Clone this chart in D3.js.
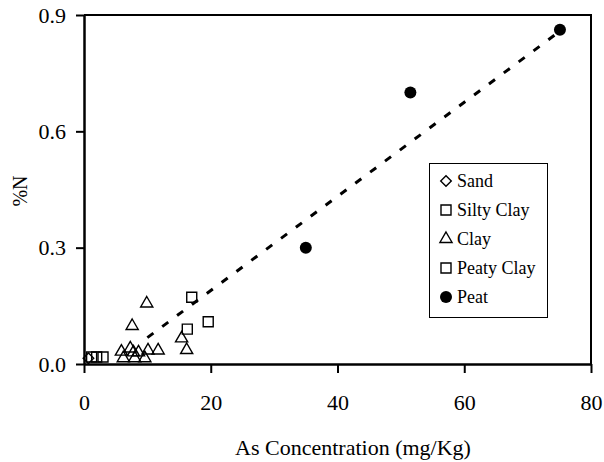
<!DOCTYPE html>
<html>
<head>
<meta charset="utf-8">
<script src="https://cdn.jsdelivr.net/npm/d3@7"></script>
<style>
  body { margin: 0; background: #fff; }
</style>
</head>
<body>
<div id="chart"></div>
<script>
// Chart data
var sandX = [0.7];
var sandY = [0.015];
var siltyX = [1.2, 2.0, 3.0];
var siltyY = [0.018, 0.018, 0.018];
var clayX = [5.9, 7.3, 7.8, 8.6, 10.1, 11.7, 6.2, 8.0, 9.6, 15.4, 16.2, 9.9, 7.6];
var clayY = [0.032, 0.04, 0.03, 0.03, 0.035, 0.035, 0.015, 0.015, 0.015, 0.066, 0.036, 0.156, 0.098];
var peatyX = [17.0, 19.6, 16.3];
var peatyY = [0.172, 0.109, 0.09];
var peatX = [35.0, 51.5, 75.1];
var peatY = [0.30, 0.70, 0.862];
var trendX = [10, 75];
var trendY = [0.068, 0.857];

var xTicks = [0, 20, 40, 60, 80];
var yTicks = [0, 0.3, 0.6, 0.9];
var seriesNames = ["Sand", "Silty Clay", "Clay", "Peaty Clay", "Peat"];

var width = 604, height = 462;
var serif = "'Liberation Serif'";

var svg = d3.select("#chart")
    .append("svg")
    .attr("width", width)
    .attr("height", height)
    .attr("font-family", "Liberation Serif");

var x = d3.scaleLinear().domain([0, 80]).range([84, 591]);
var y = d3.scaleLinear().domain([0, 0.9]).range([364, 15]);

// plot frame (top and right edges)
svg.append("path")
    .attr("d", "M" + x(0) + "," + y(0.9) + "H" + x(80) + "V" + y(0))
    .attr("fill", "none")
    .attr("stroke", "#000")
    .attr("stroke-width", 2);

// axes
var xAxis = svg.append("g")
    .attr("transform", "translate(0," + y(0) + ")")
    .call(d3.axisBottom(x).tickValues(xTicks).tickSize(9).tickSizeOuter(0));
var yAxis = svg.append("g")
    .attr("transform", "translate(" + x(0) + ",0)")
    .call(d3.axisLeft(y).tickValues(yTicks).tickSize(8).tickSizeOuter(0).tickPadding(10)
        .tickFormat(d3.format(".1f")));

[xAxis, yAxis].forEach(function (a) {
    a.attr("font-family", null).attr("font-size", null);
    a.select(".domain").attr("stroke-width", 2.5);
    a.selectAll(".tick line").attr("stroke-width", 2);
    a.selectAll(".tick text")
        .style("font-family", serif)
        .style("font-size", "22px");
});
xAxis.selectAll(".tick text").attr("dy", "0.71em").attr("y", 30);

// axis titles
svg.append("text")
    .attr("x", 353)
    .attr("y", 455)
    .attr("text-anchor", "middle")
    .style("font-family", serif)
    .style("font-size", "22px")
    .text("As Concentration (mg/Kg)");

svg.append("text")
    .attr("transform", "translate(27,191) rotate(-90)")
    .attr("text-anchor", "middle")
    .style("font-family", serif)
    .style("font-size", "20px")
    .text("%N");

// trend line
var line = d3.line()
    .x(function (d) { return x(d[0]); })
    .y(function (d) { return y(d[1]); });

svg.append("path")
    .datum(d3.zip(trendX, trendY))
    .attr("d", line)
    .attr("fill", "none")
    .attr("stroke", "#000")
    .attr("stroke-width", 3)
    .attr("stroke-dasharray", "7.5,11");

// marker generators
var squareSym = d3.symbol().type(d3.symbolSquare).size(100)();
var diamondSym = d3.symbol().type(d3.symbolSquare).size(56)();
var triangleSym = d3.symbol().type(d3.symbolTriangle).size(64)();

function drawSeries(xs, ys, kind) {
    var pts = d3.zip(xs, ys);
    var g = svg.append("g");
    if (kind === "circle") {
        g.selectAll("circle")
            .data(pts)
            .enter().append("circle")
            .attr("cx", function (d) { return x(d[0]); })
            .attr("cy", function (d) { return y(d[1]); })
            .attr("r", 6)
            .attr("fill", "#000");
        return;
    }
    var sym = kind === "square" ? squareSym : (kind === "diamond" ? diamondSym : triangleSym);
    g.selectAll("path")
        .data(pts)
        .enter().append("path")
        .attr("d", sym)
        .attr("transform", function (d) {
            return "translate(" + x(d[0]) + "," + y(d[1]) + ")" + (kind === "diamond" ? " rotate(45)" : "");
        })
        .attr("fill", "none")
        .attr("stroke", "#000")
        .attr("stroke-width", 1.4);
}

drawSeries(sandX, sandY, "diamond");
drawSeries(siltyX, siltyY, "square");
drawSeries(clayX, clayY, "triangle");
drawSeries(peatyX, peatyY, "square");
drawSeries(peatX, peatY, "circle");

// legend
var legendKinds = ["diamond", "square", "triangle", "square", "circle"];
var legend = svg.append("g");
legend.append("rect")
    .attr("x", 429.5)
    .attr("y", 163.5)
    .attr("width", 118)
    .attr("height", 154)
    .attr("fill", "#fff")
    .attr("stroke", "#000")
    .attr("stroke-width", 1);

var items = legend.selectAll(".item")
    .data(seriesNames)
    .enter().append("g")
    .attr("class", "item")
    .attr("transform", function (d, i) { return "translate(446," + (181 + i * 29) + ")"; });

items.each(function (d, i) {
    var k = legendKinds[i];
    var it = d3.select(this);
    if (k === "circle") {
        it.append("circle").attr("r", 6).attr("fill", "#000");
    } else {
        var sym = k === "square" ? squareSym : (k === "diamond" ? diamondSym : triangleSym);
        it.append("path")
            .attr("d", sym)
            .attr("transform", k === "diamond" ? "rotate(45)" : null)
            .attr("fill", "none")
            .attr("stroke", "#000")
            .attr("stroke-width", 1.4);
    }
    it.append("text")
        .attr("x", 11)
        .attr("dy", "0.35em")
        .style("font-family", serif)
        .style("font-size", "18px")
        .text(d);
});
</script>
</body>
</html>
